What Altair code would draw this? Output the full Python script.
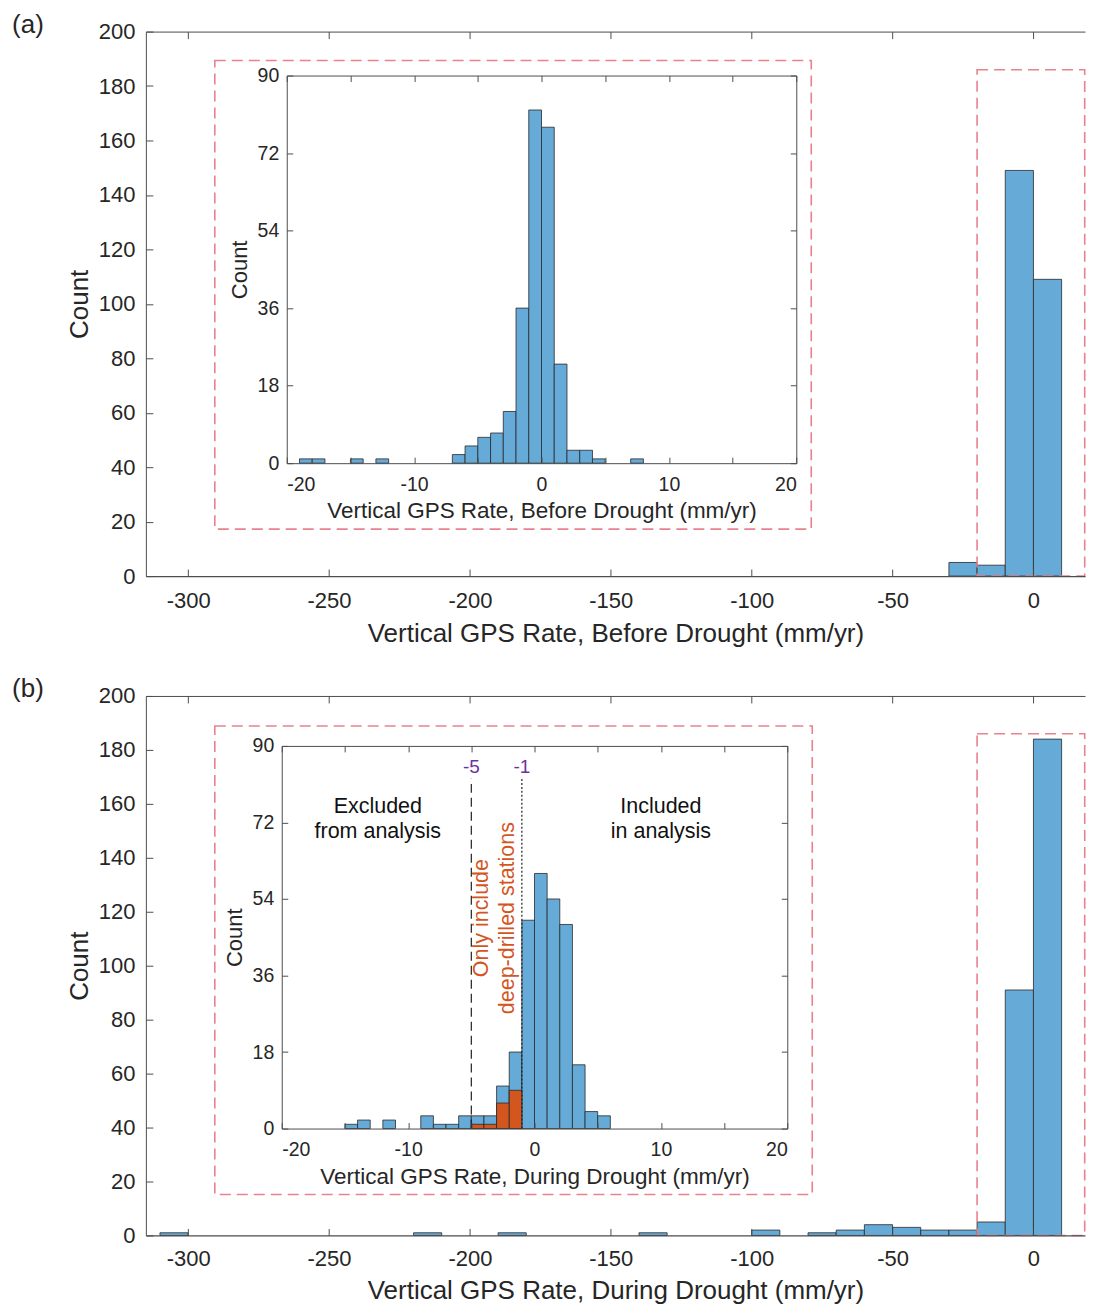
import altair as alt
import pandas as pd

# ---------------- data ----------------
main_a_start = [-30, -20, -10, 0]
main_a_count = [5, 4, 149, 109]
main_b_start = [-310, -220, -190, -140, -100, -80, -70, -60, -50, -40, -30, -20, -10, 0]
main_b_count = [1, 1, 1, 1, 2, 1, 2, 4, 3, 2, 2, 5, 91, 184]
MAIN_BIN = 10

inset_a_start = [-19, -18, -15, -13, -7, -6, -5, -4, -3, -2, -1, 0, 1, 2, 3, 4, 7]
inset_a_count = [1, 1, 1, 1, 2, 4, 6, 7, 12, 36, 82, 78, 23, 3, 3, 1, 1]
inset_b_start = [-15, -14, -12, -9, -8, -7, -6, -5, -4, -3, -2, -1, 0, 1, 2, 3, 4, 5]
inset_b_count = [1, 2, 2, 3, 1, 1, 3, 3, 3, 10, 18, 49, 60, 54, 48, 15, 4, 3]
deep_start = [-5, -4, -3, -2]
deep_count = [1, 1, 6, 9]
INSET_BIN = 1

threshold_values = [-5, -1]
threshold_labels = ["-5", "-1"]

main_x_ticks = [-300, -250, -200, -150, -100, -50, 0]
main_y_ticks = [0, 20, 40, 60, 80, 100, 120, 140, 160, 180, 200]
inset_x_labels = [-20, -10, 0, 10, 20]
inset_x_ticks = [-20, -15, -10, -5, 0, 5, 10, 15, 20]
inset_y_ticks = [0, 18, 36, 54, 72, 90]

title_a = "Vertical GPS Rate, Before Drought (mm/yr)"
title_b = "Vertical GPS Rate, During Drought (mm/yr)"
side_text = ["Excluded", "from analysis", "Included", "in analysis"]
deep_text = ["Only include", "deep-drilled stations"]

# ---------------- annotation placement (inset b data units) ----------------
SIDE_X = [-12.4, -12.4, 10.0, 10.0]
SIDE_Y = [75.6, 69.8, 75.6, 69.8]
DEEP_X = [-4.15, -2.1]
DEEP_Y = [49.5, 49.5]
THRESH_TOP = 82.3
THRESH_LABEL_Y = 85.0
HL_X = [-20, 18.2]
HL_TOP = 186

# ---------------- layout / style ----------------
FONT = "Liberation Sans"
TXT = "#262626"
AXC = "#4d4d4d"
BLUE = "#66AAD7"
EDGE = "#2a2a2a"
ORANGE = "#D4561F"
PINK = "#E8828C"
PURPLE = "#7030A0"

W = 940
H_A, H_B = 545, 540
MAIN_X = [-315, 18.3]
MAIN_Y = [0, 200]
INSET_X = [-20, 20]
INSET_Y = [0, 90]
BOX_A = (141, 651, 432, 44)      # inset plot box inside panel (px)
BOX_B = (136, 642, 433, 50)
FRAME_A = (69, 666, 29, 498)     # dashed frame around inset (px)
FRAME_B = (69, 667, 30, 499)
LABEL_XY = (-118, -20)

LABEL_EXPR = "datum.value + ''"


def bars_df(starts, counts, width):
    return pd.DataFrame({"start": starts,
                         "end": [s + width for s in starts],
                         "count": counts,
                         "base": [0] * len(starts)})


def main_scales():
    return (alt.Scale(domain=MAIN_X, nice=False, zero=False),
            alt.Scale(domain=MAIN_Y, nice=False, zero=False))


def inset_scales(box):
    x0, x1, y0, y1 = box
    return (alt.Scale(domain=INSET_X, range=[x0, x1], nice=False, zero=False),
            alt.Scale(domain=INSET_Y, range=[y0, y1], nice=False, zero=False))


def tick_axis(orient, offset, values, size, domain=False):
    return alt.Axis(orient=orient, offset=offset, values=values, labels=False,
                    domain=domain, domainColor=AXC, domainWidth=1,
                    ticks=True, tickSize=size, tickColor=AXC, tickWidth=1,
                    title=None, grid=False, zindex=2)


def tick_layer(df, sx, sy, x_axis, y_axis):
    enc = {"x": alt.X("start:Q", scale=sx, axis=x_axis)}
    if y_axis is None:
        enc["y"] = alt.Y("count:Q", scale=sy, axis=None)
    else:
        enc["y"] = alt.Y("count:Q", scale=sy, axis=y_axis)
    return alt.Chart(df).mark_point(opacity=0).encode(**enc)


def panel(tag, main_df, inset_df, box, frame, xtitle, extras_fn, H, lab_pad, tit_pad):
    mx, my = main_scales()
    ix, iy = inset_scales(box)
    x0, x1, y0, y1 = box
    layers = []

    # main histogram with labelled axes
    layers.append(alt.Chart(main_df).mark_bar(fill=BLUE, stroke=EDGE, strokeWidth=0.8).encode(
        x=alt.X("start:Q", scale=mx, axis=alt.Axis(
            orient="bottom", values=main_x_ticks, labelExpr=LABEL_EXPR, ticks=False,
            domain=True, domainColor=AXC, domainWidth=1.2, labelPadding=lab_pad, labelFontSize=22,
            labelColor=TXT, title=xtitle, titleFontSize=26, titleFontWeight="normal",
            titleColor=TXT, titlePadding=tit_pad, grid=False, zindex=2)),
        x2="end:Q",
        y=alt.Y("count:Q", scale=my, axis=alt.Axis(
            orient="left", values=main_y_ticks, labelExpr=LABEL_EXPR, ticks=False,
            domain=True, domainColor=AXC, domainWidth=1, labelPadding=11, labelFontSize=22,
            labelColor=TXT, title="Count", titleFontSize=26, titleFontWeight="normal",
            titleColor=TXT, titlePadding=6, grid=False, zindex=2)),
        y2="base:Q",
    ))
    # inward ticks of the main axes (bottom, left, top)
    layers.append(tick_layer(main_df, mx, my,
                             tick_axis("top", -H, main_x_ticks, 7),
                             tick_axis("right", -W, main_y_ticks, 7)))
    layers.append(tick_layer(main_df, mx, my,
                             tick_axis("bottom", -H, main_x_ticks, 7, domain=True),
                             None))

    # highlighted range in main panel
    hl = pd.DataFrame({"x0": [HL_X[0]], "x1": [HL_X[1]], "y0": [0], "y1": [HL_TOP]})
    layers.append(alt.Chart(hl).mark_rect(fillOpacity=0, stroke=PINK, strokeWidth=1.6,
                                          strokeDash=[11, 6]).encode(
        x=alt.X("x0:Q", scale=mx, axis=None), x2="x1:Q",
        y=alt.Y("y0:Q", scale=my, axis=None), y2="y1:Q"))

    # dashed frame around the inset
    one = pd.DataFrame({"k": [0]})
    fx0, fx1, fy0, fy1 = frame
    layers.append(alt.Chart(one).mark_rect(fillOpacity=0, stroke=PINK, strokeWidth=1.6,
                                           strokeDash=[11, 6]).encode(
        x=alt.value(fx0), x2=alt.value(fx1), y=alt.value(fy0), y2=alt.value(fy1)))

    # inset histogram with labelled axes
    layers.append(alt.Chart(inset_df).mark_bar(fill=BLUE, stroke=EDGE, strokeWidth=0.8).encode(
        x=alt.X("start:Q", scale=ix, axis=alt.Axis(
            orient="bottom", offset=y0 - H, values=inset_x_labels, labelExpr=LABEL_EXPR,
            ticks=False, domain=True, domainColor=AXC, domainWidth=1, labelPadding=12,
            labelFontSize=19.5, labelColor=TXT, title=xtitle, titleFontSize=22.5,
            titleFontWeight="normal", titleColor=TXT, titlePadding=6, grid=False, zindex=2)),
        x2="end:Q",
        y=alt.Y("count:Q", scale=iy, axis=alt.Axis(
            orient="left", offset=-x0, values=inset_y_ticks, labelExpr=LABEL_EXPR,
            ticks=False, domain=True, domainColor=AXC, domainWidth=1, labelPadding=8,
            labelFontSize=19.5, labelColor=TXT, title="Count", titleFontSize=22,
            titleFontWeight="normal", titleColor=TXT, titlePadding=6, grid=False, zindex=2)),
        y2="base:Q",
    ))
    layers += extras_fn(ix, iy)
    # inward ticks and remaining box edges of the inset
    layers.append(tick_layer(inset_df, ix, iy,
                             tick_axis("top", -y0, inset_x_ticks, 6),
                             tick_axis("right", x0 - W, inset_y_ticks, 6)))
    layers.append(tick_layer(inset_df, ix, iy,
                             tick_axis("bottom", y1 - H, inset_x_ticks, 6, domain=True),
                             tick_axis("left", -x1, inset_y_ticks, 6, domain=True)))

    # panel tag
    layers.append(alt.Chart(one).mark_text(fontSize=26, font=FONT, color=TXT,
                                           align="center", baseline="top").encode(
        x=alt.value(LABEL_XY[0]), y=alt.value(LABEL_XY[1]), text=alt.value(tag)))

    return alt.layer(*layers).resolve_scale(x="independent", y="independent").resolve_axis(
        x="independent", y="independent").properties(width=W, height=H)


def no_extras(ix, iy):
    return []


def b_extras(ix, iy):
    out = []
    out.append(alt.Chart(bars_df(deep_start, deep_count, INSET_BIN)).mark_bar(
        fill=ORANGE, stroke=EDGE, strokeWidth=0.8).encode(
        x=alt.X("start:Q", scale=ix, axis=None), x2="end:Q",
        y=alt.Y("count:Q", scale=iy, axis=None), y2="base:Q"))
    rules = pd.DataFrame({"x": threshold_values, "y0": [0, 0], "y1": [THRESH_TOP, THRESH_TOP],
                          "lab": threshold_labels, "ly": [THRESH_LABEL_Y, THRESH_LABEL_Y]})
    out.append(alt.Chart(rules.iloc[[0]]).mark_rule(color="#222222", strokeWidth=1.2,
                                                    strokeDash=[9, 5]).encode(
        x=alt.X("x:Q", scale=ix, axis=None),
        y=alt.Y("y0:Q", scale=iy, axis=None), y2="y1:Q"))
    out.append(alt.Chart(rules.iloc[[1]]).mark_rule(color="#222222", strokeWidth=1.2,
                                                    strokeDash=[2, 2]).encode(
        x=alt.X("x:Q", scale=ix, axis=None),
        y=alt.Y("y0:Q", scale=iy, axis=None), y2="y1:Q"))
    out.append(alt.Chart(rules).mark_text(fontSize=19, font=FONT, color=PURPLE,
                                          align="center", baseline="middle").encode(
        x=alt.X("x:Q", scale=ix, axis=None),
        y=alt.Y("ly:Q", scale=iy, axis=None), text="lab:N"))
    side = pd.DataFrame({"x": SIDE_X, "y": SIDE_Y, "t": side_text})
    out.append(alt.Chart(side).mark_text(fontSize=21.5, font=FONT, color="#111111",
                                         align="center", baseline="middle").encode(
        x=alt.X("x:Q", scale=ix, axis=None),
        y=alt.Y("y:Q", scale=iy, axis=None), text="t:N"))
    deep = pd.DataFrame({"x": DEEP_X, "y": DEEP_Y, "t": deep_text})
    out.append(alt.Chart(deep).mark_text(fontSize=21.5, font=FONT, color=ORANGE, angle=270,
                                         align="center", baseline="middle").encode(
        x=alt.X("x:Q", scale=ix, axis=None),
        y=alt.Y("y:Q", scale=iy, axis=None), text="t:N"))
    return out


panel_a = panel("(a)", bars_df(main_a_start, main_a_count, MAIN_BIN),
                bars_df(inset_a_start, inset_a_count, INSET_BIN),
                BOX_A, FRAME_A, title_a, no_extras, H_A, 14.5, 9)
panel_b = panel("(b)", bars_df(main_b_start, main_b_count, MAIN_BIN),
                bars_df(inset_b_start, inset_b_count, INSET_BIN),
                BOX_B, FRAME_B, title_b, b_extras, H_B, 13, 8)

chart = alt.vconcat(panel_a, panel_b, spacing=29).properties(
    padding={"left": 4, "top": 3, "right": 0, "bottom": 0}
).configure_view(stroke=None).configure_axis(labelFont=FONT, titleFont=FONT).configure_text(font=FONT)

chart.save("out.html", embed_options={"renderer": "svg", "actions": False})
